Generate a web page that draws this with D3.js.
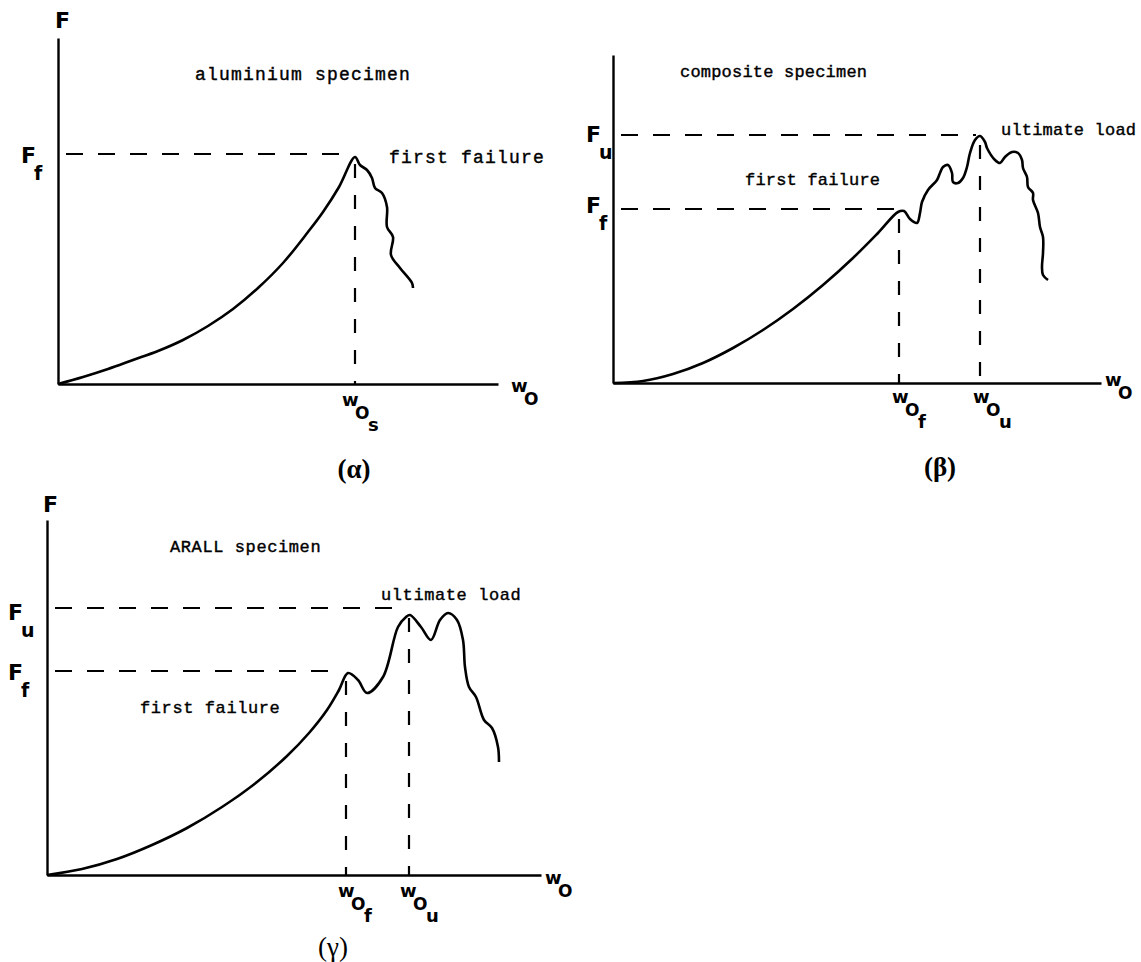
<!DOCTYPE html>
<html>
<head>
<meta charset="utf-8">
<script src="https://cdn.jsdelivr.net/npm/d3@7"></script>
<style>
body{margin:0;background:#fff}
svg{display:block}
.note{font-family:"Liberation Mono",monospace;fill:#000;stroke:#000;stroke-width:0.4}
.sym{font-family:"DejaVu Sans",sans-serif;font-weight:bold;fill:#000}
.cap{font-family:"Liberation Serif",serif;fill:#000}
</style>
</head>
<body>
<svg id="chart" width="1141" height="962"></svg>
<script>
// load-deflection curves, in panel units (w0 to the right, F upward)
var alphaCurve = [[0,0],[25,7],[50,15],[75,24],[100,33],[125,44],[150,58],[175,75],[200,96],[225,121],[250,152],
    [265,172],[281,197],[297,227],
    [302,219],[309,214],[314,206],[317,196],[324,191],[329,177],[329,157],[335,147],[333,129],[342,116],[354,101],[355,96]];
var betaCurve = [[0,0],[30,2],[60,9],[90,20],[120,35],[150,53],[180,74],[210,98],[240,125],[265,150],[285,171],
    [291,172],[297,164],[304,160],
    [307,170],[309,181],[315,193],[324,203],[327,210],[330,216],[335,218],[339,210],[340,201],[345,200],[350,205],
    [354,216],[357,230],[362,243],[367,247],[372,241],[374,235],[382,223],[387,220],[392,226],[399,231],[405,230],
    [409,223],[410,215],[414,206],[415,196],[420,190],[420,183],[425,170],[427,156],[430,146],[430,130],[429,116],
    [430,108],[435,103]];
var gammaCurve = [[0,0],[35,6],[70,16],[105,30],[140,47],[175,68],[210,93],[240,119],[262,142],[280,165],[292,185],
    [301,202],[311,195],[320,182],
    [336,198],[351,248],[359,258],[363,260],[374,248],[384,235],[393,255],[401,262],[410,255],[416,235],[418,208],
    [422,188],[429,178],[437,155],[445,147],[451,128],[452,113]];

// [w0, F] of the marked points
var alphaFirst = [297, 230];
var betaFirst = [286, 174];
var betaUltimate = [367, 248];
var gammaFirst = [299, 204];
var gammaUltimate = [362, 267];

var alphaNotes = ['aluminium specimen', 'first failure'];
var betaNotes = ['composite specimen', 'ultimate load', 'first failure'];
var gammaNotes = ['ARALL specimen', 'ultimate load', 'first failure'];

var svg = d3.select('#chart');

function panel(x0, y0, xLen, yLen, curve, marks){
    var x = d3.scaleLinear().domain([0, xLen]).range([x0, x0 + xLen]),
        y = d3.scaleLinear().domain([0, yLen]).range([y0, y0 - yLen]),
        g = svg.append('g');

    g.append('g')
        .attr('transform', 'translate(0,' + y0 + ')')
        .call(d3.axisBottom(x).tickValues([]).tickSizeOuter(0))
        .select('.domain').attr('stroke-width', 2.6);
    g.append('g')
        .attr('transform', 'translate(' + x0 + ',0)')
        .call(d3.axisLeft(y).tickValues([]).tickSizeOuter(0))
        .select('.domain').attr('stroke-width', 2.4);

    marks.forEach(function(m){
        g.append('line')
            .attr('x1', x(8)).attr('x2', x(m[0] - 4))
            .attr('y1', y(m[1])).attr('y2', y(m[1]))
            .attr('stroke', '#000').attr('stroke-width', 2.2)
            .attr('stroke-dasharray', '17,15');
        g.append('line')
            .attr('x1', x(m[0])).attr('x2', x(m[0]))
            .attr('y1', y(m[1] - 10)).attr('y2', y(0))
            .attr('stroke', '#000').attr('stroke-width', 2.2)
            .attr('stroke-dasharray', '14,17');
    });

    g.append('path')
        .datum(curve)
        .attr('d', d3.line().x(function(d){ return x(d[0]); }).y(function(d){ return y(d[1]); })
            .curve(d3.curveCatmullRom.alpha(0.5)))
        .attr('fill', 'none')
        .attr('stroke', '#000')
        .attr('stroke-width', 2.6)
        .attr('stroke-linejoin', 'round');
    return g;
}

function note(g, px, py, txt, size, ls){
    g.append('text').attr('class', 'note')
        .attr('x', px).attr('y', py)
        .attr('font-size', size + 'px')
        .attr('letter-spacing', ls + 'px')
        .text(txt);
}

function sym(g, px, py, txt, size){
    g.append('text').attr('class', 'sym')
        .attr('x', px).attr('y', py)
        .attr('font-size', (size || 22) + 'px')
        .text(txt);
}

// F with a subscript below right
function flabel(g, px, py, sub){
    sym(g, px, py, 'F');
    sym(g, px + 13, py + 17, sub, 19);
}

// w0 with optional second subscript
function wlabel(g, px, py, sub){
    sym(g, px, py, 'w', 18);
    sym(g, px + 13, py + 13, 'O', 17);
    if (sub) sym(g, px + 26, py + 25, sub, 18);
}

function cap(g, px, py, txt, bold){
    g.append('text').attr('class', 'cap')
        .attr('x', px).attr('y', py)
        .attr('text-anchor', 'middle')
        .attr('font-size', '27px')
        .attr('font-weight', bold ? 'bold' : 'normal')
        .text(txt);
}

// (α) aluminium
var ga = panel(58, 384, 440, 346, alphaCurve, [alphaFirst]);
sym(ga, 55, 28, 'F');
flabel(ga, 21, 163, 'f');
wlabel(ga, 511, 392);
wlabel(ga, 342, 406, 's');
note(ga, 195, 80, alphaNotes[0], 18, 1.2);
note(ga, 389, 163, alphaNotes[1], 18, 1.2);
cap(ga, 354, 478, '(α)', true);

// (β) composite
var gb = panel(613, 383, 488, 328, betaCurve, [betaFirst, betaUltimate]);
flabel(gb, 586, 142, 'u');
flabel(gb, 586, 213, 'f');
wlabel(gb, 1105, 386);
wlabel(gb, 892, 403, 'f');
wlabel(gb, 973, 403, 'u');
note(gb, 680, 77, betaNotes[0], 17, 0.2);
note(gb, 1001, 135, betaNotes[1], 17, 0.2);
note(gb, 745, 185, betaNotes[2], 17, 0.2);
cap(gb, 940, 476, '(β)', true);

// (γ) ARALL
var gc = panel(47, 875, 494, 355, gammaCurve, [gammaFirst, gammaUltimate]);
sym(gc, 43, 512, 'F');
flabel(gc, 8, 620, 'u');
flabel(gc, 8, 680, 'f');
wlabel(gc, 545, 884);
wlabel(gc, 338, 897, 'f');
wlabel(gc, 400, 897, 'u');
note(gc, 170, 552, gammaNotes[0], 17, 0.6);
note(gc, 381, 600, gammaNotes[1], 17, 0.6);
note(gc, 140, 713, gammaNotes[2], 17, 0.6);
cap(gc, 333, 956, '(γ)', false);
</script>
</body>
</html>
